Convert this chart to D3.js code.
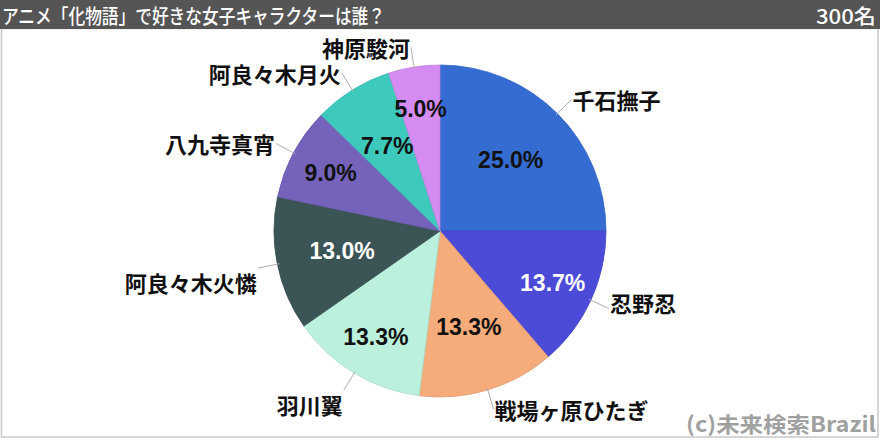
<!DOCTYPE html>
<html><head><meta charset="utf-8">
<script src="https://cdn.jsdelivr.net/npm/d3@7"></script>
<style>html,body{margin:0;padding:0;background:#fff;}svg{display:block;}</style>
</head><body>
<script>
const titleText = "アニメ「化物語」で好きな女子キャラクターは誰？";
const sampleText = "300名";
const creditText = "(c)未来検索Brazil";
const categories = ["千石撫子","忍野忍","戦場ヶ原ひたぎ","羽川翼","阿良々木火憐","八九寺真宵","阿良々木月火","神原駿河"];
const values = [25.0, 13.7, 13.3, 13.3, 13.0, 9.0, 7.7, 5.0];
const colors = ["#356cd2","#4b4bd8","#f6ab7a","#baf0dc","#3b5456","#7562bb","#3ec9bd","#d48cf2"];
const whiteText = [false, true, false, false, true, false, false, false];

const W = 880, H = 440;
const svg = d3.select("body").append("svg").attr("width", W).attr("height", H);
svg.append("rect").attr("width", W).attr("height", H).attr("fill", "#fff");
svg.append("rect").attr("x", 1.5).attr("y", 28.5).attr("width", 876.5).attr("height", 408.5)
  .attr("fill", "#fff").attr("stroke", "#c8c8c8").attr("stroke-width", 1.5);
svg.append("rect").attr("x", 0).attr("y", 0).attr("width", W).attr("height", 29).attr("fill", "#555555");
svg.append("text").attr("x", 2).attr("y", 15).attr("dominant-baseline", "central").text(titleText)
  .attr("fill", "#fff").attr("font-family", "'Noto Sans CJK JP', sans-serif").attr("font-size", 20).attr("font-weight", 500)
  .attr("textLength", 383).attr("lengthAdjust", "spacingAndGlyphs");
svg.append("text").attr("x", 876).attr("y", 15).attr("dominant-baseline", "central").attr("text-anchor", "end").text(sampleText)
  .attr("fill", "#fff").attr("font-family", "'Noto Sans CJK JP', sans-serif").attr("font-size", 20).attr("font-weight", 500)
  .attr("textLength", 60).attr("lengthAdjust", "spacingAndGlyphs");

const cx = 440, cy = 231, r = 166;
const g = svg.append("g").attr("transform", `translate(${cx},${cy})`);
const pie = d3.pie().sort(null).value(d => d)(values);
const arc = d3.arc().innerRadius(0).outerRadius(r);

g.selectAll("path.slice").data(pie).join("path").attr("class", "slice")
  .attr("d", arc).attr("fill", (d, i) => colors[i])
  .attr("stroke", (d, i) => d3.color(colors[i]).darker(0.25)).attr("stroke-width", 0.8);

const pt = (a, rr) => [Math.sin(a) * rr, -Math.cos(a) * rr];

// percent labels (alternating radii)
g.selectAll("text.pct").data(pie).join("text").attr("class", "pct")
  .each(function(d, i) {
    const a = (d.startAngle + d.endAngle) / 2;
    const [x, y] = pt(a, i % 2 === 0 ? 100 : 124);
    d3.select(this).attr("x", x).attr("y", y);
  })
  .attr("text-anchor", "middle").attr("dominant-baseline", "central")
  .attr("font-family", "'Liberation Sans', Arial, sans-serif").attr("font-weight", "bold").attr("font-size", 23)
  .attr("fill", (d, i) => whiteText[i] ? "#fff" : "#111")
  .text(d => d3.format(".1f")(d.value) + "%");

// leader lines and category labels
pie.forEach((d, i) => {
  const a = (d.startAngle + d.endAngle) / 2;
  const [x1, y1] = pt(a, r - 2);
  const [x2, y2] = pt(a, r + 20);
  g.append("line").attr("x1", x1).attr("y1", y1).attr("x2", x2).attr("y2", y2)
    .attr("stroke", "#b0b0b0").attr("stroke-width", 1);
  const right = Math.sin(a) >= 0;
  let ly = y2;
  if (a > Math.PI && a < Math.PI * 1.5) ly += 14;
  if (a > Math.PI / 2 && a < Math.PI * 0.75) ly -= 7;
  g.append("text").attr("x", x2 + (right ? 1 : -1)).attr("y", ly)
    .attr("text-anchor", right ? "start" : "end").attr("dominant-baseline", "central")
    .attr("font-family", "'Noto Sans CJK JP', sans-serif").attr("font-weight", "bold").attr("font-size", 22)
    .attr("fill", "#111").text(categories[i]);
});

svg.append("text").attr("x", 876).attr("y", 432).attr("text-anchor", "end").text(creditText)
  .attr("fill", "#a0a0a0").attr("font-family", "'Noto Sans CJK JP', sans-serif").attr("font-weight", "bold")
  .attr("font-size", 21).attr("textLength", 190).attr("lengthAdjust", "spacingAndGlyphs");
</script>
</body></html>
